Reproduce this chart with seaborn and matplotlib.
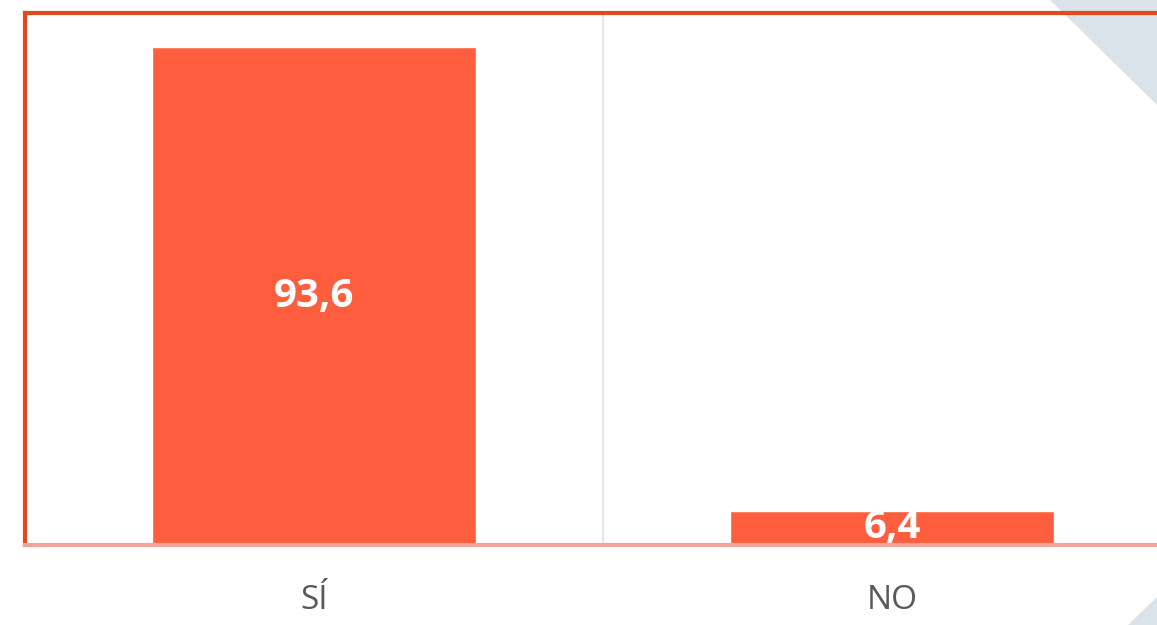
import numpy as np
import pandas as pd
import matplotlib
matplotlib.use("Agg")
import matplotlib.pyplot as plt
import seaborn as sns
from matplotlib.patches import Polygon

# =====================================
# DATA
# =====================================

categories = ["SÍ", "NO"]
values = [93.6, 6.4]
value_labels = ["93,6", "6,4"]

BAR_COLOR = "#FF5E3E"
FRAME_COLOR = "#E2491C"
BASE_COLOR = "#EBA797"
SHAPE_COLOR = "#D9E3E9"

df = pd.DataFrame({"cat": categories, "val": values})

# =====================================
# FIGURE
# =====================================

sns.set_theme(style="white")
plt.rcParams["font.family"] = ["Open Sans", "DejaVu Sans"]

W, H = 1157, 625
fig = plt.figure(figsize=(W / 100, H / 100), dpi=100)
fig.patch.set_facecolor("white")

# decorative background shapes
fig.patches.append(Polygon(
    [(1050 / W, 1.0), (1.0, 1.0), (1.0, 1 - 105 / H)],
    closed=True, transform=fig.transFigure,
    facecolor=SHAPE_COLOR, edgecolor="none", zorder=0
))
fig.patches.append(Polygon(
    [(1128 / W, 0.0), (1.0, 0.0), (1.0, 28 / H)],
    closed=True, transform=fig.transFigure,
    facecolor=SHAPE_COLOR, edgecolor="none", zorder=0
))

ax = fig.add_axes([25 / W, (H - 545) / H, 1156 / W, 532 / H])
ax.set_facecolor("none")
ax.set_zorder(2)

sns.barplot(
    data=df,
    x="cat",
    y="val",
    color=BAR_COLOR,
    width=0.56,
    saturation=1,
    ax=ax
)

ax.set_xlim(-0.5, 1.5)
ax.set_ylim(0, 100)

# separator between categories
ax.axvline(0.5, color="#E6E6E6", lw=1.5, zorder=0)

# value labels
for i, (v, lab) in enumerate(zip(values, value_labels)):
    ax.text(
        i, v / 2, lab,
        ha="center", va="center",
        color="white", fontsize=29, fontweight="bold"
    )

ax.set_xlabel("")
ax.set_ylabel("")
ax.set_yticks([])
ax.tick_params(axis="x", length=0, pad=28, labelsize=24, labelcolor="#595959")

for side in ["top", "left"]:
    ax.spines[side].set_color(FRAME_COLOR)
    ax.spines[side].set_linewidth(3)
ax.spines["bottom"].set_color(BASE_COLOR)
ax.spines["bottom"].set_linewidth(3)
ax.spines["right"].set_visible(False)

plt.savefig("out.png", dpi=100, facecolor="white")
plt.close()
